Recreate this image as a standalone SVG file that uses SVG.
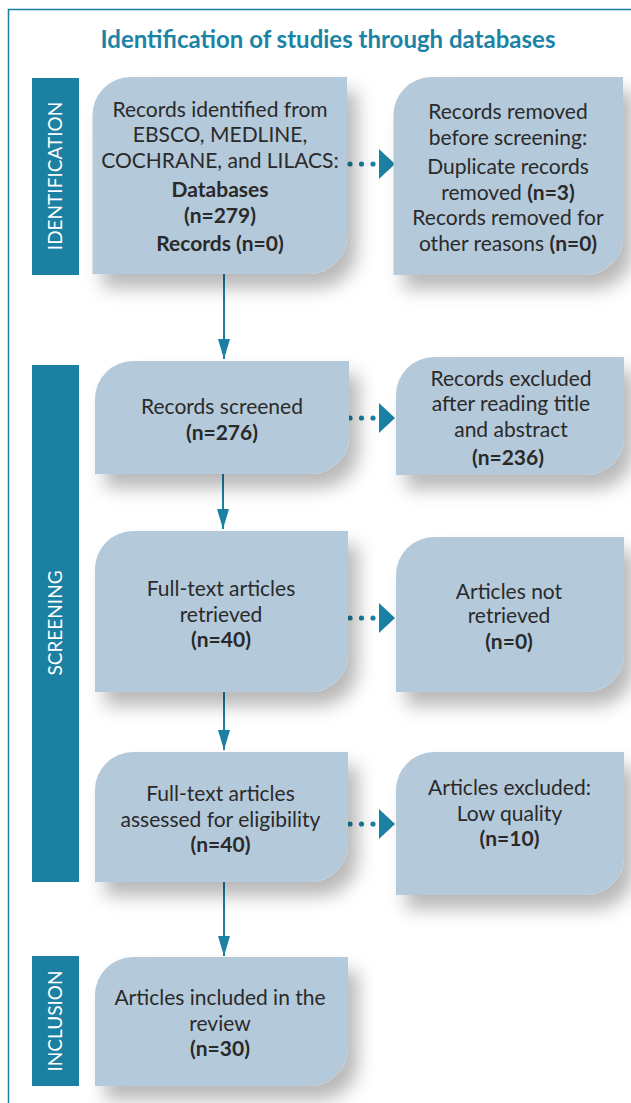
<svg xmlns="http://www.w3.org/2000/svg" width="631" height="1103" viewBox="0 0 631 1103">
<defs>
<filter id="sh" x="-20%" y="-20%" width="150%" height="160%">
<feDropShadow dx="10" dy="14" stdDeviation="9" flood-color="#000" flood-opacity="0.28"/>
</filter>
<marker id="ah" viewBox="0 0 20 12" refX="20" refY="6" markerWidth="20" markerHeight="12" markerUnits="userSpaceOnUse" orient="auto">
<path d="M0,0 L20,6 L0,12 Z" fill="#1b80a2"/>
</marker>
<style>
.box{fill:#b4c9da;filter:url(#sh);}
.bar{fill:#1b80a2;}
.t{font-family:Lato,"Liberation Sans",sans-serif;font-size:21px;fill:#2a2a2a;text-anchor:middle;}
.b{font-weight:bold;}
.lab{font-family:Lato,"Liberation Sans",sans-serif;font-size:19px;fill:#ffffff;text-anchor:middle;}
.title{font-family:Lato,"Liberation Sans",sans-serif;font-size:24px;font-weight:bold;fill:#1b84a6;text-anchor:middle;}
.ln{stroke:#1b80a2;stroke-width:2;fill:none;}
.dot{fill:#1b80a2;}
.tri{fill:#1b80a2;}
</style>
</defs>
<rect width="631" height="1103" fill="#ffffff"/>
<path d="M8.5,1103 V9.5 H631" fill="none" stroke="#1b80a2" stroke-width="1.5"/>
<text id="title" class="title" x="328" y="48">Identification of studies through databases</text>

<g id="bar-identification">
<rect class="bar" x="32" y="78" width="47" height="197"/>
<text class="lab" transform="translate(62,176) rotate(-90)">IDENTIFICATION</text>
</g>
<g id="bar-screening">
<rect class="bar" x="32" y="365" width="47" height="517"/>
<text class="lab" transform="translate(62,623) rotate(-90)">SCREENING</text>
</g>
<g id="bar-inclusion">
<rect class="bar" x="32" y="956" width="47" height="130"/>
<text class="lab" transform="translate(62,1021) rotate(-90)">INCLUSION</text>
</g>

<g id="connectors">
<line class="ln" x1="224" y1="274" x2="224" y2="359" marker-end="url(#ah)"/>
<line class="ln" x1="223" y1="474" x2="223" y2="529" marker-end="url(#ah)"/>
<line class="ln" x1="224" y1="692" x2="224" y2="750" marker-end="url(#ah)"/>
<line class="ln" x1="224" y1="882" x2="224" y2="956" marker-end="url(#ah)"/>
<g>
<circle class="dot" cx="350" cy="164" r="2.6"/><circle class="dot" cx="361.5" cy="164" r="2.6"/><circle class="dot" cx="373" cy="164" r="2.6"/>
<path class="tri" d="M379,149 L395,164 L379,179 Z"/>
</g>
<g>
<circle class="dot" cx="350" cy="418" r="2.6"/><circle class="dot" cx="361.5" cy="418" r="2.6"/><circle class="dot" cx="373" cy="418" r="2.6"/>
<path class="tri" d="M379,403 L395,418 L379,433 Z"/>
</g>
<g>
<circle class="dot" cx="350" cy="618" r="2.6"/><circle class="dot" cx="361.5" cy="618" r="2.6"/><circle class="dot" cx="373" cy="618" r="2.6"/>
<path class="tri" d="M379,603 L395,618 L379,633 Z"/>
</g>
<g>
<circle class="dot" cx="350" cy="824" r="2.6"/><circle class="dot" cx="361.5" cy="824" r="2.6"/><circle class="dot" cx="373" cy="824" r="2.6"/>
<path class="tri" d="M379,809 L395,824 L379,839 Z"/>
</g>
</g>

<g id="n-identified">
<path class="box" d="M92.5,115 A38,38 0 0 1 130.5,77 H347 V236 A38,38 0 0 1 309,274 H92.5 Z"/>
<text class="t" x="220" y="117">Records identified from</text>
<text class="t" x="220" y="142">EBSCO, MEDLINE,</text>
<text class="t" x="220" y="168">COCHRANE, and LILACS:</text>
<text class="t b" x="220" y="197">Databases</text>
<text class="t b" x="220" y="223">(n=279)</text>
<text class="t" x="220" y="251"><tspan class="b">Records</tspan><tspan class="b"> (n=0)</tspan></text>
</g>

<g id="n-removed">
<path class="box" d="M393.5,115 A38,38 0 0 1 431.5,77 H623 V237 A38,38 0 0 1 585,275 H393.5 Z"/>
<text class="t" x="508" y="119">Records removed</text>
<text class="t" x="508" y="145">before screening:</text>
<text class="t" x="508" y="174">Duplicate records</text>
<text class="t" x="508" y="200">removed <tspan class="b">(n=3)</tspan></text>
<text class="t" x="508" y="225">Records removed for</text>
<text class="t" x="508" y="251">other reasons <tspan class="b">(n=0)</tspan></text>
</g>

<g id="n-screened">
<path class="box" d="M95,399 A38,38 0 0 1 133,361 H349 V436 A38,38 0 0 1 311,474 H95 Z"/>
<text class="t" x="222" y="414">Records screened</text>
<text class="t b" x="222" y="440">(n=276)</text>
</g>

<g id="n-excluded">
<path class="box" d="M396,395 A38,38 0 0 1 434,357 H624 V437 A38,38 0 0 1 586,475 H396 Z"/>
<text class="t" x="511" y="386">Records excluded</text>
<text class="t" x="511" y="411">after reading title</text>
<text class="t" x="511" y="437">and abstract</text>
<text class="t b" x="508" y="465">(n=236)</text>
</g>

<g id="n-retrieved">
<path class="box" d="M95,569 A38,38 0 0 1 133,531 H348 V654 A38,38 0 0 1 310,692 H95 Z"/>
<text class="t" x="221" y="596">Full-text articles</text>
<text class="t" x="221" y="622">retrieved</text>
<text class="t b" x="221" y="647">(n=40)</text>
</g>

<g id="n-not-retrieved">
<path class="box" d="M396,575 A38,38 0 0 1 434,537 H624 V654 A38,38 0 0 1 586,692 H396 Z"/>
<text class="t" x="509" y="599">Articles not</text>
<text class="t" x="509" y="623">retrieved</text>
<text class="t b" x="509" y="649">(n=0)</text>
</g>

<g id="n-assessed">
<path class="box" d="M95,790 A38,38 0 0 1 133,752 H348 V844 A38,38 0 0 1 310,882 H95 Z"/>
<text class="t" x="220.5" y="801">Full-text articles</text>
<text class="t" x="220.5" y="827">assessed for eligibility</text>
<text class="t b" x="220.5" y="852">(n=40)</text>
</g>

<g id="n-excluded-quality">
<path class="box" d="M396,790 A38,38 0 0 1 434,752 H624 V857 A38,38 0 0 1 586,895 H396 Z"/>
<text class="t" x="509.5" y="795">Articles excluded:</text>
<text class="t" x="509.5" y="821">Low quality</text>
<text class="t b" x="509.5" y="846">(n=10)</text>
</g>

<g id="n-included">
<path class="box" d="M95,995 A38,38 0 0 1 133,957 H348 V1048 A38,38 0 0 1 310,1086 H95 Z"/>
<text class="t" x="220" y="1005">Articles included in the</text>
<text class="t" x="220" y="1031">review</text>
<text class="t b" x="220" y="1056">(n=30)</text>
</g>
</svg>
